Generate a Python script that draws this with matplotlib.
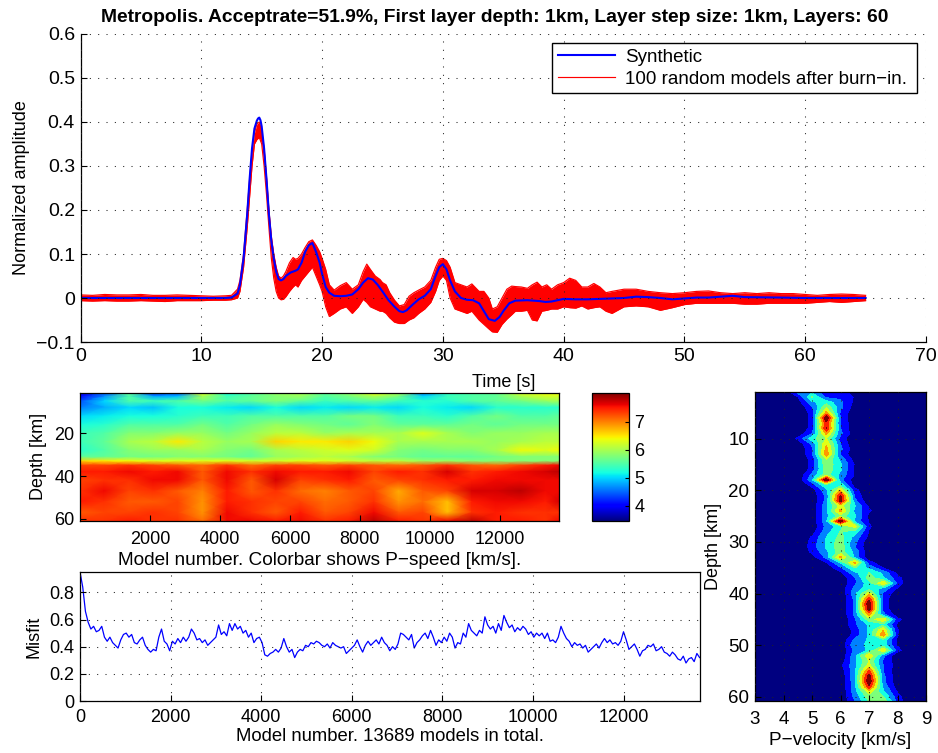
import numpy as np
import matplotlib
matplotlib.use("Agg")
import matplotlib.pyplot as plt

plt.rcParams['font.family'] = ['Liberation Sans', 'DejaVu Sans']
plt.rcParams['axes.unicode_minus'] = True

W, H = 938, 753

syn_t = [0,2,4,6,8,10,12,12.5,13,13.2,13.5,13.8,14,14.2,14.4,14.6,14.7,14.8,14.9,15,15.2,15.4,15.6,15.8,16,16.2,16.4,16.6,16.8,17,17.4,17.8,18,18.3,18.6,18.9,19.2,19.5,19.8,20,20.3,20.6,21,21.5,22,22.5,23,23.4,23.8,24.2,24.6,25,25.5,26,26.4,26.7,27,27.5,28,28.5,29,29.4,29.7,30,30.3,30.6,31,31.5,32,32.5,33,33.4,33.8,34.3,34.7,35,35.5,36,37,38,38.5,39,40,41,42,43,45,46,47,48,49,50,51,52,54,55,58,60,65]
syn_y = [0,0,0,0,0,0,0,.001,.01,.03,.09,.19,.27,.34,.385,.403,.408,.41,.404,.39,.34,.27,.19,.13,.09,.06,.043,.04,.043,.05,.058,.062,.065,.08,.105,.12,.125,.105,.08,.055,.025,.012,.005,.004,.005,.008,.02,.035,.045,.042,.03,.015,-.005,-.02,-.03,-.032,-.028,-.015,-.003,.005,.02,.05,.07,.077,.065,.04,.015,0,-.004,-.005,-.012,-.03,-.048,-.052,-.043,-.03,-.012,-.006,-.005,-.007,-.009,-.008,-.002,-.003,-.003,-.002,0,.003,.002,0,-.003,-.001,.001,.001,.005,.002,.001,0,0]

band_t = [0,1,2,3,4,5,6,7,8,9,10,11,12,12.5,13,13.2,13.5,13.8,14,14.2,14.4,14.6,14.8,15,15.2,15.4,15.6,15.8,16,16.2,16.4,16.6,16.8,17,17.3,17.6,17.8,18,18.3,18.6,18.9,19.2,19.5,19.8,20,20.3,20.6,21,21.5,22,22.5,23,23.4,23.7,24,24.4,24.8,25,25.3,25.6,26,26.4,26.8,27.2,27.6,28,28.5,29,29.4,29.7,30,30.3,30.6,31,31.5,32,32.4,33,33.4,33.8,34.1,34.5,34.9,35.3,35.7,36,36.5,37,37.4,37.8,38.2,38.6,39,39.5,40,40.5,41,41.5,42,42.5,43,43.5,44,45,46,47,48,49,50,51,52,53,54,55,56,57,58,59,60,61,62,63,64,65]
band_hi = [.007,.006,.008,.007,.007,.008,.006,.006,.007,.006,.005,.004,.005,.006,.02,.04,.1,.2,.27,.33,.375,.395,.40,.38,.34,.275,.2,.14,.10,.07,.05,.045,.05,.06,.08,.092,.088,.09,.1,.115,.128,.132,.12,.105,.09,.065,.03,.018,.028,.035,.02,.03,.06,.077,.065,.05,.042,.035,.03,.012,-.005,-.018,-.015,.004,.012,.018,.025,.04,.07,.088,.09,.085,.07,.035,.03,.025,.032,.015,.015,0,-.025,-.02,0,.02,.027,.026,.025,.022,.03,.036,.025,.03,.02,.03,.035,.045,.04,.025,.025,.033,.025,.012,.015,.02,.02,.015,.012,.01,.012,.015,.016,.012,.01,.012,.01,.012,.01,.01,.008,.006,.008,.009,.008,.006]
band_lo = [-.006,-.007,-.006,-.007,-.007,-.006,-.007,-.008,-.006,-.006,-.006,-.005,-.005,-.004,0,.015,.07,.16,.23,.3,.35,.36,.365,.35,.30,.235,.16,.09,.045,.015,0,-.004,-.003,.003,.015,.025,.03,.025,.04,.05,.06,.07,.05,.03,.015,-.02,-.042,-.035,-.025,-.02,-.035,-.02,-.003,-.01,-.02,-.025,-.03,-.03,-.035,-.045,-.055,-.058,-.058,-.05,-.045,-.035,-.025,-.01,.015,.04,.05,.04,0,-.025,-.03,-.035,-.03,-.05,-.06,-.07,-.077,-.078,-.06,-.048,-.038,-.03,-.03,-.028,-.05,-.052,-.03,-.028,-.025,-.025,-.02,-.022,-.023,-.018,-.025,-.022,-.02,-.03,-.035,-.02,-.018,-.02,-.028,-.022,-.015,-.012,-.012,-.012,-.012,-.014,-.014,-.012,-.012,-.012,-.012,-.01,-.008,-.01,-.008,-.006]

heat_models = [1,700,1400,2100,2800,3500,4200,4900,5600,6300,7000,7700,8400,9100,9800,10500,11200,11900,12600,13300,13689]
heat_depths = [1,3,5,8,12,16,20,24,28,31,33,35,38,42,47,52,57,61]
heat_p = [
[3.9,4.4,5.6,4.2,4.4,6.3,5.2,5.5,5.9,6.0,5.6,5.9,6.4,6.0,4.6,5.3,5.5,5.6,6.3,6.4,6.4],
[4.0,4.7,5.5,4.8,4.9,6.0,5.4,5.6,5.8,5.9,5.5,5.7,6.0,5.7,5.0,5.4,5.5,5.6,6.0,6.2,6.2],
[4.4,5.0,5.5,5.4,5.5,5.7,5.5,5.6,5.8,5.6,5.4,5.5,5.6,5.4,5.3,5.3,5.5,5.6,5.7,5.9,6.0],
[4.6,4.8,5.0,4.9,5.2,5.2,5.1,5.0,5.2,5.0,5.1,5.0,5.1,5.0,5.2,5.1,5.0,5.3,5.3,5.3,5.3],
[5.0,5.1,5.2,5.2,5.3,5.4,5.4,5.5,5.5,5.5,5.5,5.7,5.7,5.4,5.4,5.3,5.5,5.7,5.5,5.5,5.6],
[5.2,5.3,5.5,5.5,5.5,5.7,5.5,5.7,5.9,5.8,5.7,5.6,5.8,5.6,5.6,5.6,5.7,5.6,5.7,5.7,5.7],
[5.4,5.5,5.8,5.8,5.9,5.9,5.7,5.9,6.1,6.1,5.9,6.0,6.0,6.0,6.3,6.0,5.8,5.9,5.9,6.0,6.0],
[5.4,5.6,6.0,6.1,6.5,6.1,5.9,6.0,6.6,6.5,6.5,6.6,6.4,6.0,6.0,6.0,6.0,5.9,6.0,6.1,6.1],
[5.3,5.5,5.8,5.9,5.9,6.0,5.8,5.7,6.0,6.1,6.2,6.3,6.2,5.8,5.7,5.8,5.8,6.0,6.4,6.3,6.4],
[5.6,5.6,5.7,5.7,5.8,5.8,5.7,5.6,5.9,6.0,6.1,6.0,5.8,5.7,5.6,5.6,5.6,5.7,5.8,5.8,5.8],
[6.6,6.5,6.4,6.3,6.3,6.3,6.3,6.2,6.2,6.3,6.3,6.2,6.1,6.1,5.9,5.9,5.8,5.8,5.8,5.8,5.8],
[7.3,7.3,7.4,7.3,7.2,7.1,7.4,7.1,7.3,7.3,7.2,7.3,7.2,7.1,7.2,7.4,7.2,7.1,7.3,7.5,7.6],
[7.5,7.5,7.6,7.5,7.6,7.2,7.6,7.4,7.6,7.5,7.5,7.6,7.3,7.5,7.4,7.7,7.4,7.5,7.6,7.7,7.8],
[7.3,7.4,7.4,7.6,7.6,7.2,7.6,7.2,7.7,7.3,7.4,7.5,7.2,7.3,7.4,7.5,7.5,7.6,7.6,7.6,7.6],
[7.4,7.6,7.3,7.4,7.2,7.0,7.5,7.2,7.4,7.1,7.0,7.2,7.3,6.8,7.2,7.3,7.7,7.7,7.8,7.6,7.6],
[7.5,7.4,7.2,7.2,7.3,6.9,7.5,7.4,7.3,7.3,7.1,7.2,7.4,6.9,7.1,6.7,7.5,7.6,7.6,7.5,7.7],
[7.2,7.3,7.3,7.4,7.3,6.9,7.6,7.4,7.2,7.5,7.2,7.3,7.6,7.2,7.3,6.7,7.4,7.5,7.4,7.4,7.4],
[7.4,7.4,7.5,7.4,7.4,7.1,7.6,7.6,7.5,7.6,7.4,7.5,7.8,7.5,7.4,7.6,7.8,7.5,7.5,7.4,7.6],
]

misfit = [
.95,.84,.66,.58,.53,.55,.51,.52,.55,.47,.44,.47,.43,.41,.39,.45,.49,
.50,.47,.49,.43,.42,.45,.47,.41,.38,.36,.38,.37,.47,.53,.44,.42,.37,
.44,.42,.46,.43,.47,.44,.47,.53,.50,.45,.46,.43,.45,.41,.43,.45,.47,
.56,.49,.51,.48,.57,.52,.57,.53,.55,.50,.52,.47,.50,.43,.46,.47,.43,
.34,.33,.35,.36,.38,.36,.39,.46,.40,.36,.38,.32,.36,.38,.37,.41,.40,
.43,.42,.44,.43,.41,.40,.42,.39,.43,.41,.40,.39,.40,.35,.37,.39,.41,
.45,.40,.36,.41,.44,.41,.43,.45,.42,.47,.43,.41,.37,.40,.38,.42,.50,
.49,.47,.45,.49,.39,.43,.45,.48,.50,.46,.52,.47,.41,.45,.43,.47,.44,
.50,.47,.39,.43,.42,.50,.47,.57,.52,.50,.48,.52,.50,.62,.56,.53,.55,
.50,.57,.52,.63,.58,.54,.56,.51,.54,.52,.55,.53,.49,.51,.47,.50,.48,
.50,.46,.50,.44,.45,.43,.47,.55,.50,.46,.44,.40,.43,.41,.42,.39,.41,
.36,.38,.40,.42,.39,.43,.46,.43,.45,.42,.43,.41,.44,.51,.45,.38,.40,
.42,.38,.33,.37,.38,.41,.40,.42,.37,.38,.40,.36,.35,.33,.36,.34,.31,
.30,.33,.28,.31,.32,.29,.35,.32]
misfit_models = np.arange(len(misfit)) * 60

vel = [3,3.5,4,4.5,5,5.5,6,6.5,7,7.5,8,8.5,9]
depth = np.arange(1, 62)
# density columns for 4.5, 5, 5.5, 6, 6.5, 7, 7.5, 8 km/s
dens = [
[2.5,3,1.5,1.5,.7,0,0,0],[1,4.5,2,2,1,0,0,0],[.5,3,4,2.5,.8,0,0,0],[0,2,5.5,2.5,.5,0,0,0],
[0,1.5,7,2,.3,0,0,0],[0,1.5,10,2,0,0,0,0],[0,1.5,8.5,2.2,.2,0,0,0],[0,1.5,9,2.2,.2,0,0,0],
[.3,2,7,2.5,.3,0,0,0],[1.3,4,5.5,1.8,0,0,0,0],[.3,2.5,6.5,2.2,0,0,0,0],[0,2,7,2.5,.3,0,0,0],
[0,2,7.5,2,.2,0,0,0],[0,1.5,5.5,3,.5,0,0,0],[0,1.5,5.3,3.5,1,0,0,0],[0,1.5,5.2,3.5,.8,0,0,0],
[0,2.5,5,3,1,0,0,0],[.3,3,10,2.5,.5,0,0,0],[0,1.5,4.2,4,.5,0,0,0],[0,.5,3,6.5,1.5,0,0,0],
[0,.3,2.5,9,2,0,0,0],[0,.2,2.5,9.5,2.5,0,0,0],[0,.2,3,6,3.5,.8,0,0],[0,.2,3,7,3,1.3,0,0],
[0,.2,3,5,3.5,.8,0,0],[0,.2,3,10,3,1,0,0],[0,.2,2.5,4,6,1.3,0,0],[0,.5,2.8,4.5,4,1,0,0],
[0,1.2,3.3,4.8,3,.8,0,0],[0,1.5,3.5,5,2.5,.3,0,0],[0,1.6,3.5,5.2,2.3,.2,0,0],[0,1.3,3,5,3,.3,0,0],
[0,.5,2.5,7,3,.3,0,0],[0,0,1,3.5,7,1.5,.3,0],[0,0,.3,2,4.5,3,1,0],[0,0,0,.8,3,4.5,3,.8],
[0,0,0,.2,2,5,3.5,1.5],[0,0,0,.2,2,4,6.5,1.8],[0,0,0,.3,2.5,4,3,1],[0,0,0,0,3,6,2,.3],
[0,0,0,0,2.5,8.5,1.8,0],[0,0,0,0,2.5,10,1.8,0],[0,0,0,0,2.5,9.5,1.8,0],[0,0,0,0,2.5,7,2.5,.4],
[0,0,0,0,2,5,6.5,1.5],[0,0,0,0,2,3.5,4,.8],[0,0,0,0,1.5,3.5,6.5,1.2],[0,0,0,0,1.5,3.5,7.5,1.2],
[0,0,0,0,2.5,3.5,4,.8],[0,0,0,.2,3,3.5,4,1],[0,0,0,0,2.5,3.5,6.5,1.5],[0,0,0,0,3,6.5,2.5,.2],
[0,0,0,.3,3,5.5,2,.5],[0,0,0,.8,3,6,2.2,.5],[0,0,0,.3,3,8,2.2,.3],[0,0,0,.2,3,9.5,2.5,.3],
[0,0,0,0,3,10,2.5,.3],[0,0,0,0,3,8.5,3,.5],[0,0,0,0,2.8,6,3.5,1],[0,0,0,0,2.5,5,4.5,1.5],
[0,0,0,0,2,4.5,5.5,1.8]]

def axpx(l, t, r, b):
    return fig.add_axes([l / W, 1 - b / H, (r - l) / W, (b - t) / H])

def style(ax, fs=13.5, pad=4):
    ax.tick_params(direction='in', length=4, width=.8, labelsize=fs, pad=pad)
    for s in ax.spines.values():
        s.set_linewidth(.9)

def dotted(ax):
    ax.grid(True, color='#222222', linestyle=(0, (1, 7)), linewidth=.75)
    ax.set_axisbelow(False)

fig = plt.figure(figsize=(W / 100, H / 100), dpi=100)

# top panel
ax = axpx(80.5, 34, 926, 342)
ax.fill_between(band_t, band_lo, band_hi, color='red', lw=0)
ax.plot(band_t, band_hi, color='red', lw=.85, label='100 random models after burn\u2212in.')
ax.plot(band_t, band_lo, color='red', lw=.85)
ax.plot(syn_t, syn_y, color='blue', lw=1.5, label='Synthetic')
ax.set_xlim(0, 70)
ax.set_ylim(-.1, .6)
ax.set_yticks(np.arange(-.1, .61, .1))
ax.set_yticklabels(['\u22120.1', '0', '0.1', '0.2', '0.3', '0.4', '0.5', '0.6'])
style(ax, 14)
dotted(ax)
ax.spines['top'].set_visible(False)
ax.spines['right'].set_visible(False)
ax.set_xlabel('Time [s]', fontsize=13, labelpad=7)
ax.set_ylabel('Normalized amplitude', fontsize=13, labelpad=5)
ax.set_title('Metropolis. Acceptrate=51.9%, First layer depth: 1km, Layer step size: 1km, Layers: 60',
             fontsize=13.9, fontweight='bold', x=(495 - 80.5) / 845.5, pad=9)
handles, labels = ax.get_legend_handles_labels()
leg = ax.legend(handles[::-1], labels[::-1], loc='upper left', mode='expand',
                bbox_to_anchor=(552 / W, 1 - 96.5 / H, 365 / W, 53.5 / H), bbox_transform=fig.transFigure,
                fontsize=13.5, fancybox=False, edgecolor='black', framealpha=1, borderaxespad=0,
                borderpad=.3, labelspacing=.25, handlelength=3.05, handletextpad=.55)
leg.get_frame().set_linewidth(1)
leg.set_zorder(10)

# model heat map
ax = axpx(80, 392.5, 559, 521)
m = ax.pcolormesh(heat_models, heat_depths, heat_p, cmap='jet', vmin=3.45, vmax=8.05, shading='gouraud')
ax.set_xlim(1, 13689)
ax.set_ylim(61, 1)
ax.set_xticks([2000, 4000, 6000, 8000, 10000, 12000])
ax.set_yticks([20, 40, 60])
style(ax, 13, 7)
ax.tick_params(axis='y', pad=4)
ax.set_xlabel('Model number. Colorbar shows P\u2212speed [km/s].', fontsize=13.7, labelpad=3)
ax.set_ylabel('Depth [km]', fontsize=13, labelpad=5)

cax = axpx(592, 392.5, 629, 521)
cb = fig.colorbar(m, cax=cax, ticks=[4, 5, 6, 7])
cb.ax.tick_params(direction='in', length=3, width=.8, labelsize=13, pad=4)
cb.outline.set_linewidth(.9)

# misfit
ax = axpx(80, 572, 700, 701)
ax.plot(misfit_models, misfit, color='blue', lw=.9)
ax.set_xlim(0, 13689)
ax.set_ylim(0, .95)
ax.set_xticks(np.arange(0, 12001, 2000))
ax.set_yticks([0, .2, .4, .6, .8])
ax.set_yticklabels(['0', '0.2', '0.4', '0.6', '0.8'])
style(ax, 13, 6)
ax.tick_params(axis='y', pad=4)
dotted(ax)
ax.set_xlabel('Model number. 13689 models in total.', fontsize=13.3, labelpad=1)
ax.set_ylabel('Misfit', fontsize=13, labelpad=5)

# density of velocities
ax = axpx(755, 392, 926, 701)
dens = np.array(dens)
Z = np.zeros((len(depth), len(vel)))
Z[:, 3:11] = dens
ax.contourf(vel, depth, Z, levels=np.linspace(0, 10, 10), cmap='jet', vmin=.55, vmax=9.45)
ax.set_xlim(3, 9)
ax.set_ylim(60.8, 1)
ax.set_xticks(range(3, 10))
ax.set_yticks(range(10, 61, 10))
style(ax, 13.5, 7)
ax.tick_params(axis='y', pad=4)
dotted(ax)
ax.set_xlabel('P\u2212velocity [km/s]', fontsize=13.7, labelpad=3)
ax.set_ylabel('Depth [km]', fontsize=13, labelpad=5)

fig.savefig('out.png', dpi=100)
